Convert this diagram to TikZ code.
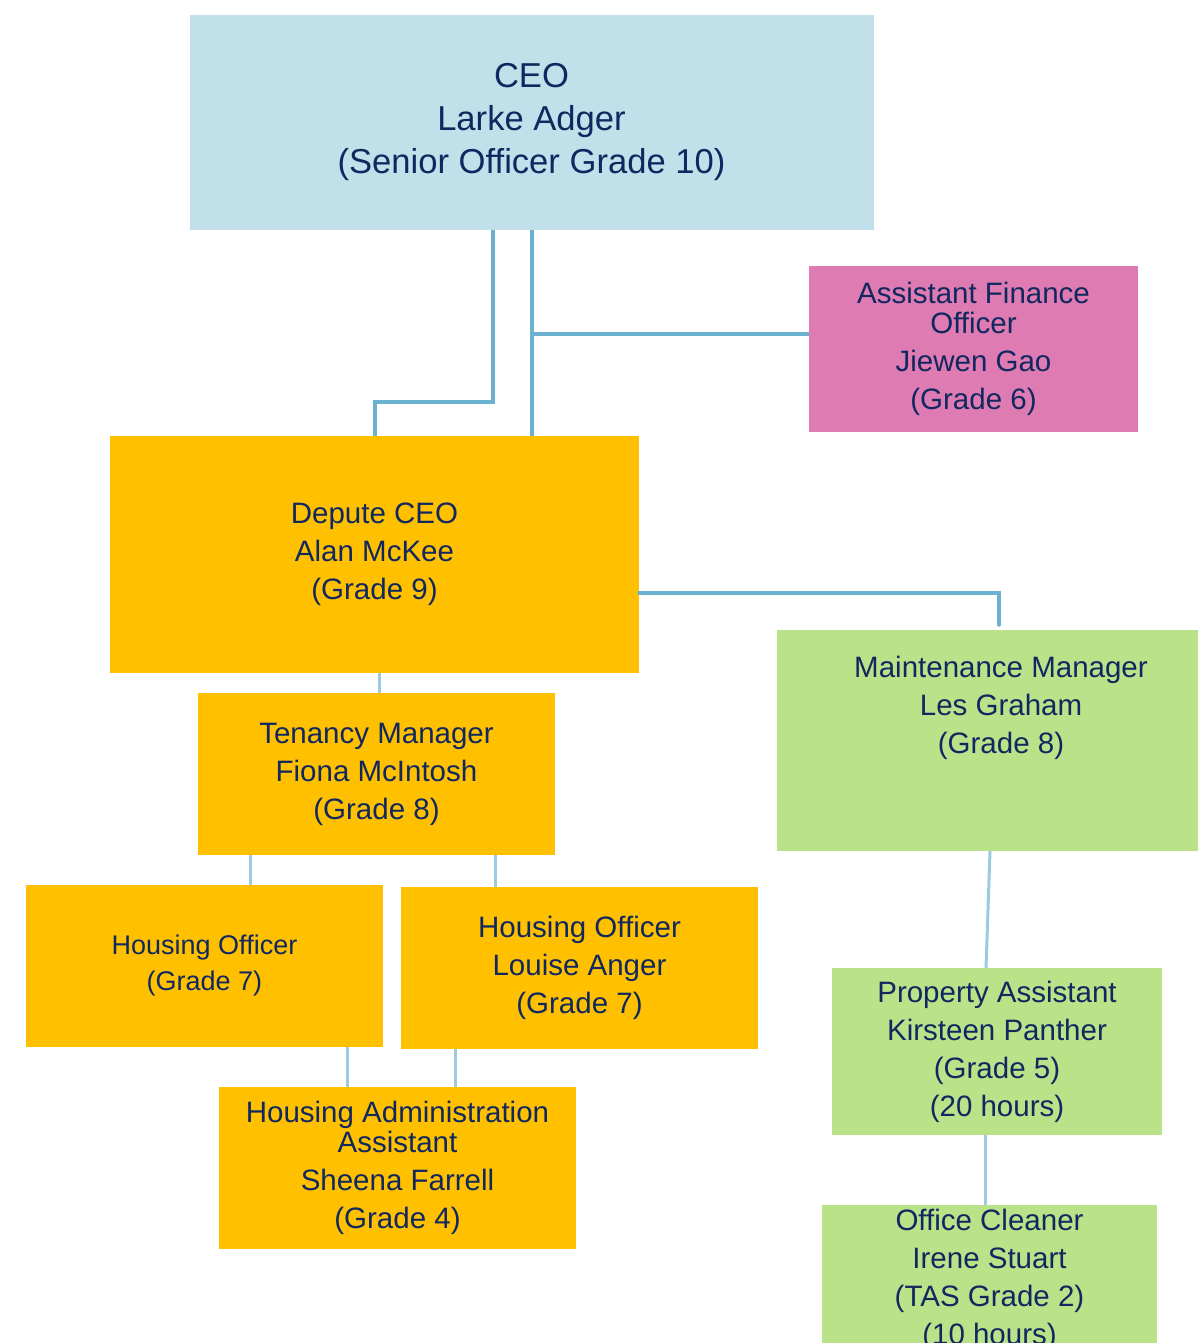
\documentclass[tikz,border=0pt]{standalone}
\usepackage{fontspec}
\setmainfont{Liberation Sans}
\usepackage{xcolor}
\usepackage{tikz}

\definecolor{navy}{HTML}{10285F}
\definecolor{ceoblue}{HTML}{C2E0EA}
\definecolor{finpink}{HTML}{DE7BB2}
\definecolor{housegold}{HTML}{FFC000}
\definecolor{maintgreen}{HTML}{BAE289}
\definecolor{linkblue}{HTML}{6AB2D0}
\definecolor{linklight}{HTML}{9CCBE0}

\begin{document}
\begin{tikzpicture}[x=1pt, y=-1pt]
    \tikzstyle{post} = [rectangle, inner sep=0pt, align=center, text=navy, font=\fontsize{29.5}{38}\selectfont]
    \tikzstyle{line} = [draw, linkblue, line width=4pt]
    \tikzstyle{thinline} = [draw, linklight, line width=3pt]

    \clip (0,0) rectangle (1198,1343);
    \fill [white] (0,0) rectangle (1198,1343);

    % top of the chart
    \node [post, fill=ceoblue, minimum width=684pt, minimum height=214pt, font=\fontsize{34.6}{43}\selectfont] (ceo) at (531.5,122.5) {CEO\\Larke Adger\\(Senior Officer Grade 10)};
    \node [post, fill=finpink, minimum width=329pt, minimum height=166pt] (fin) at (973.5,349) {Assistant Finance\\[-8pt]Officer\\Jiewen Gao\\(Grade 6)};
    \node [post, fill=housegold, minimum width=529pt, minimum height=237pt] (depute) at (374.5,554.5) {Depute CEO\\Alan McKee\\(Grade 9)};

    % housing side
    \node [post, fill=housegold, minimum width=357pt, minimum height=162pt] (tenancy) at (376.5,774) {Tenancy Manager\\Fiona McIntosh\\(Grade 8)};
    \node [post, fill=housegold, minimum width=357pt, minimum height=162pt, font=\fontsize{27}{36}\selectfont] (hoL) at (204.5,966) {Housing Officer\\(Grade 7)};
    \node [post, fill=housegold, minimum width=357pt, minimum height=162pt] (hoR) at (579.5,968) {Housing Officer\\Louise Anger\\(Grade 7)};
    \node [post, fill=housegold, minimum width=357pt, minimum height=162pt] (haa) at (397.5,1168) {Housing Administration\\[-8pt]Assistant\\Sheena Farrell\\(Grade 4)};

    % maintenance side
    \node [post, fill=maintgreen, minimum width=448pt, minimum height=221pt] (maint) at (1001,740.5) {};
    \node [post] (mainttxt) at (1001,708) {Maintenance Manager\\Les Graham\\(Grade 8)};
    \node [post, fill=maintgreen, minimum width=330pt, minimum height=167pt] (prop) at (997,1051.5) {Property Assistant\\Kirsteen Panther\\(Grade 5)\\(20 hours)};
    \node [post, fill=maintgreen, minimum width=335pt, minimum height=150pt] (cleaner) at (989.5,1280) {Office Cleaner\\Irene Stuart\\(TAS Grade 2)\\(10 hours)};

    \coordinate (finjoin) at ([yshift=15pt]fin.west);

    \path [line] ([xshift=-38.5pt]ceo.south) -- ++(0,172) -| (depute.north);
    \path [line] (ceo.south) -- (ceo.south |- depute.north);
    \path [line] (ceo.south |- finjoin) -- (finjoin);
    \path [line, line cap=round] ([yshift=-38.5pt]depute.east) -| ([xshift=-2pt, yshift=5pt]maint.north);
    \path [thinline] ([xshift=2.5pt]tenancy.north) -- ([xshift=2.5pt]tenancy.north |- depute.south);
    \path [thinline] ([xshift=45.5pt]hoL.north) -- ([xshift=45.5pt]hoL.north |- tenancy.south);
    \path [thinline] ([xshift=-84.5pt]hoR.north) -- ([xshift=-84.5pt]hoR.north |- tenancy.south);
    \path [thinline] ([xshift=-50.5pt]haa.north) -- ([xshift=-50.5pt]haa.north |- hoL.south);
    \path [thinline] ([xshift=57.5pt]haa.north) -- ([xshift=57.5pt]haa.north |- hoR.south);
    \path [thinline] ([xshift=-11pt]maint.south) -- ([xshift=-11pt]prop.north);
    \path [thinline] ([xshift=-4.5pt]cleaner.north) -- ([xshift=-4.5pt]cleaner.north |- prop.south);
\end{tikzpicture}
\end{document}
